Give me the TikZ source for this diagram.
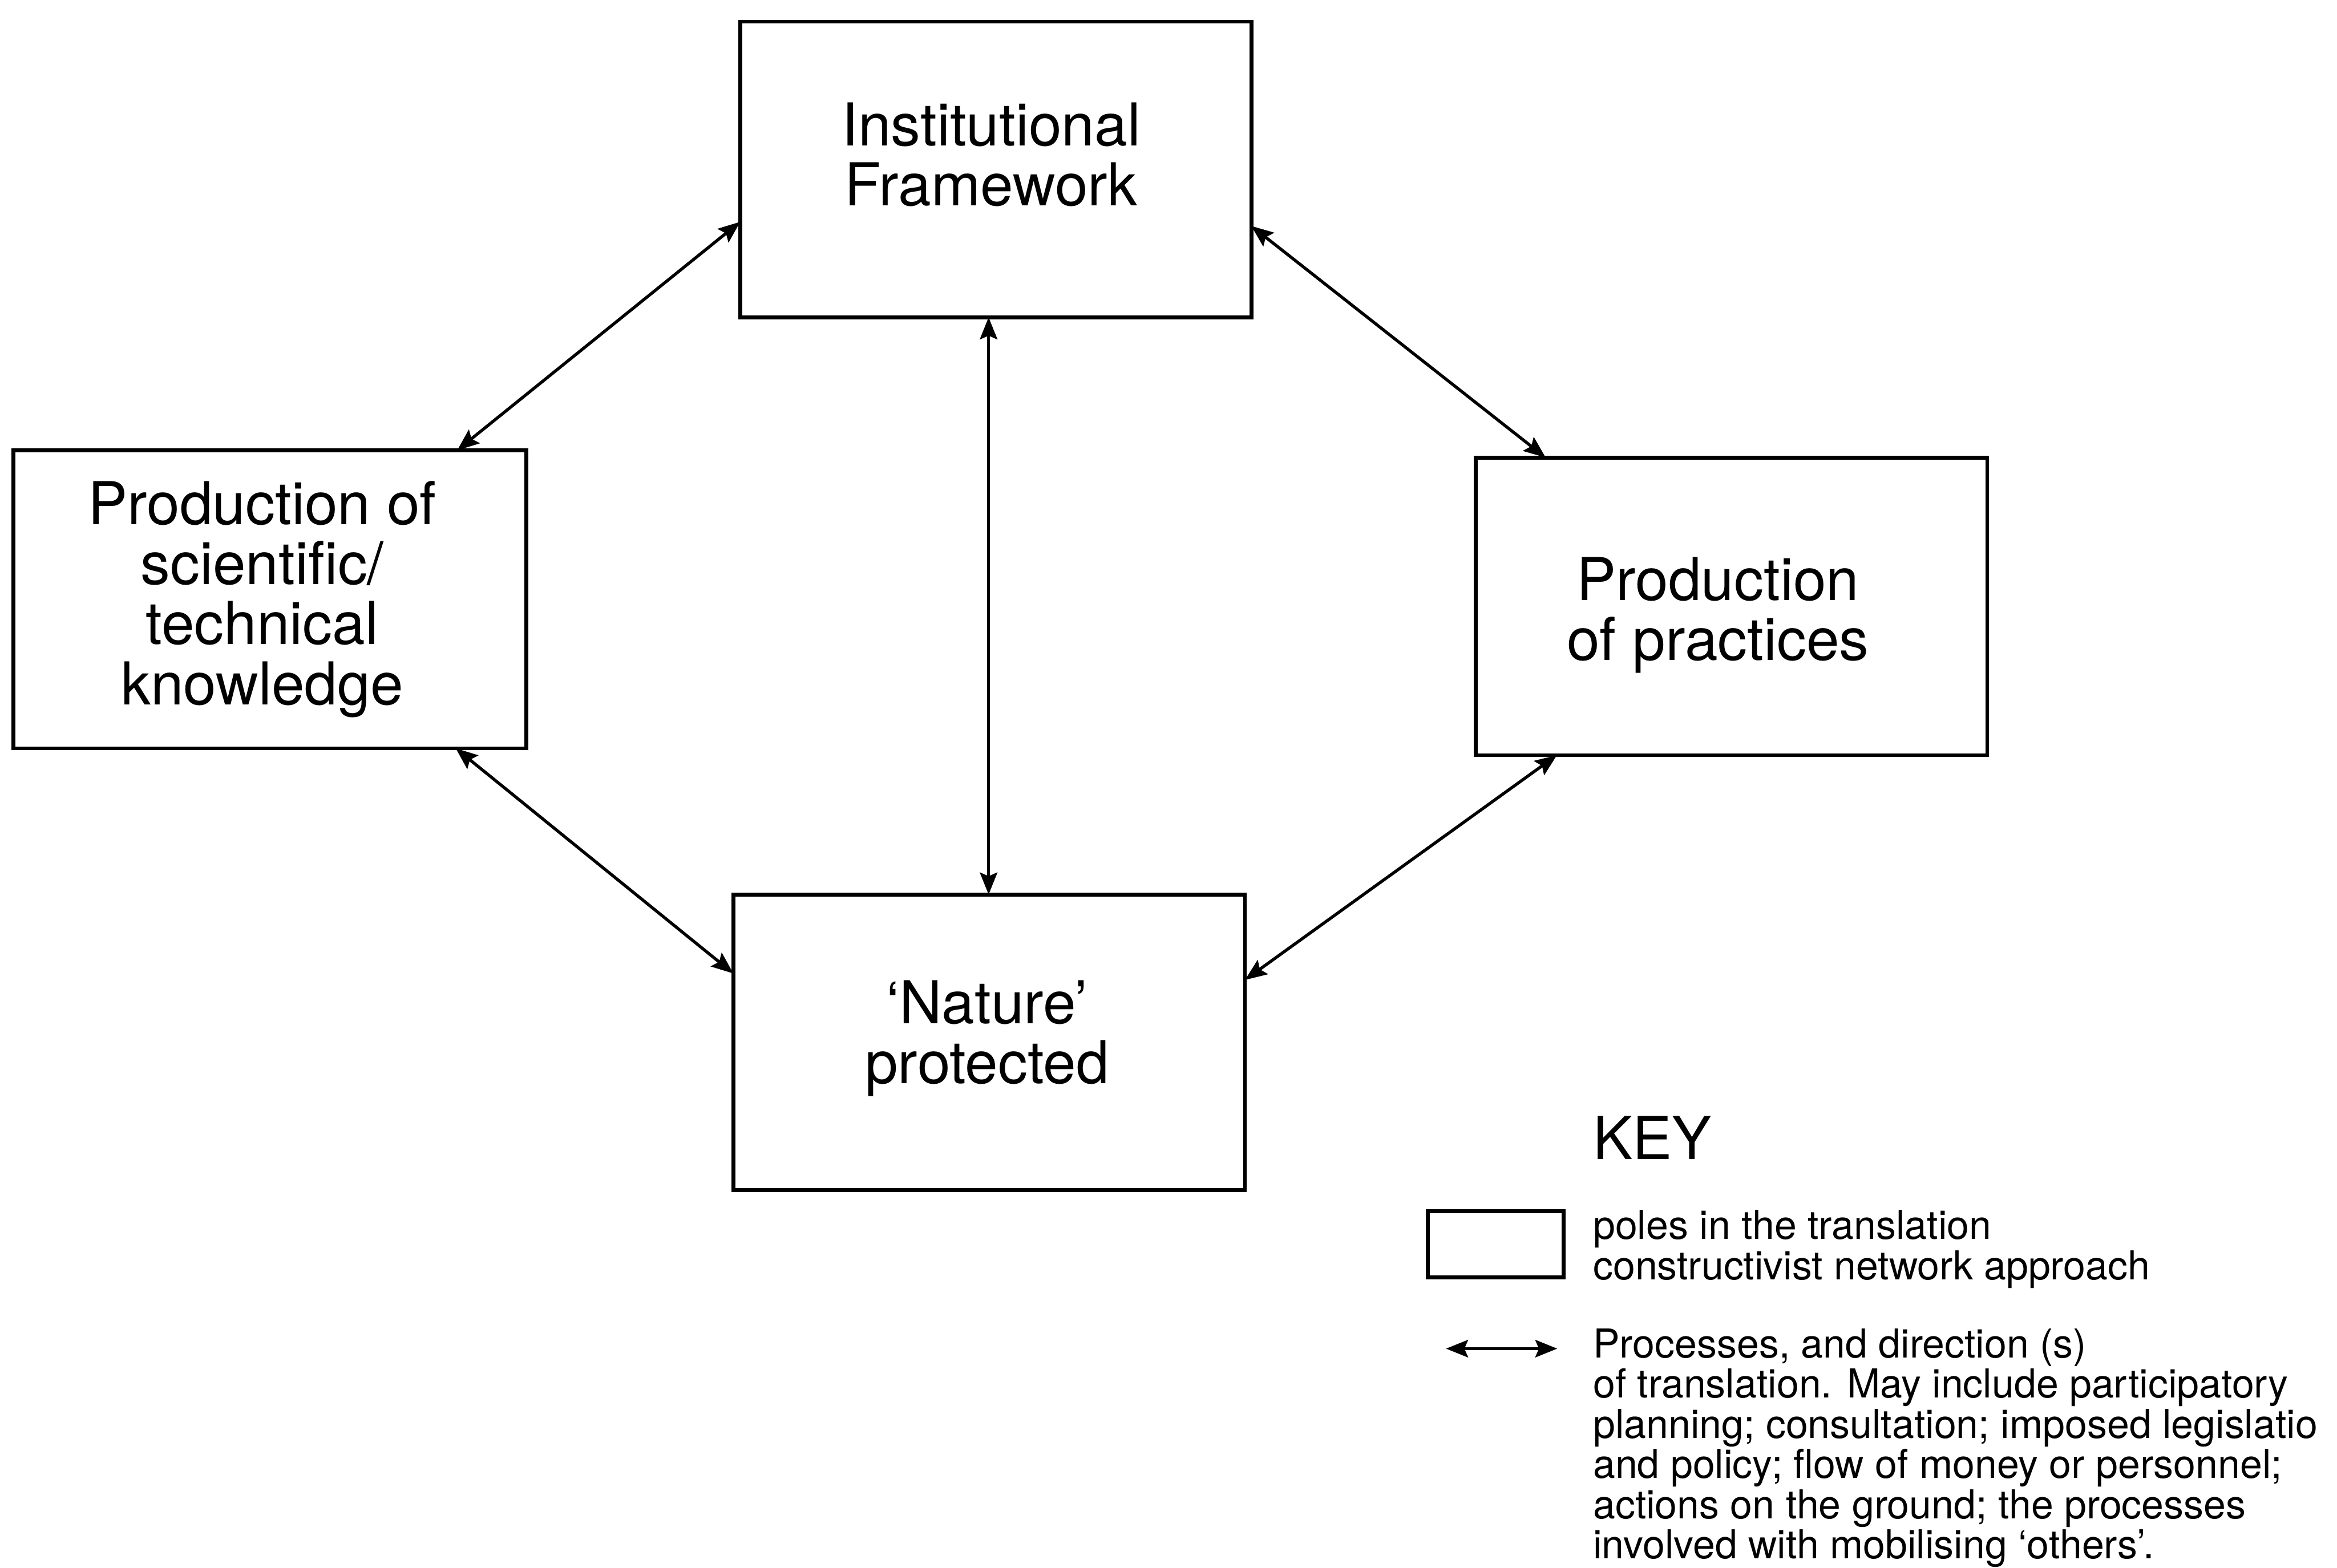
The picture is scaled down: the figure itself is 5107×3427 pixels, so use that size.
\documentclass[tikz,border=0pt]{standalone}
\usepackage{fontspec}
\setmainfont{TeX Gyre Heros}
\usetikzlibrary{arrows.meta,calc}
\begin{document}
\begin{tikzpicture}[x=0.005cm,y=-0.005cm,
  pole/.style={draw=black,line width=1.2pt,inner sep=0pt,outer sep=0pt},
  poletext/.style={align=center,inner sep=0pt,font=\fontsize{18.4}{18.7}\selectfont},
  keytext/.style={align=left,inner sep=0pt,anchor=north west,font=\fontsize{12.4}{12.5}\selectfont},
  link/.style={line width=0.95pt,{Stealth[length=0.24cm,width=0.19cm,inset=0.04cm]}-{Stealth[length=0.24cm,width=0.19cm,inset=0.04cm]}}
]
\useasboundingbox[fill=white] (0,0) rectangle (5107,3427);

% the four poles of the network
\node[pole,minimum width=5.59cm,minimum height=3.235cm] (IF) at (2176,370.5) {};
\node[pole,minimum width=5.61cm,minimum height=3.26cm] (SK) at (590,1310) {};
\node[pole,minimum width=5.595cm,minimum height=3.255cm] (PP) at (3783.5,1325.5) {};
\node[pole,minimum width=5.595cm,minimum height=3.235cm] (NP) at (2161.5,2278.5) {};

\node[poletext] (IFt) at (2166,338) {Institutional\\Framework};
\node[poletext] (SKt) at (573,1310) {Production of\\scientific/\\technical\\knowledge};
\node[poletext] (PPt) at (3754,1345) {Production\\of practices};
\node[poletext] (NPt) at (2157,2270) {‘Nature’\\protected};

% processes of translation between the poles
\draw[link] ($(IF.north west)!0.677!(IF.south west)$) -- ($(SK.north west)!0.865!(SK.north east)$);
\draw[link] ($(IF.north east)!0.691!(IF.south east)$) -- ($(PP.north west)!0.137!(PP.north east)$);
\coordinate (NPtop) at ($(NP.north west)!0.499!(NP.north east)$);
\draw[link] (NPtop |- IF.south) -- (NPtop);
\draw[link] ($(SK.south west)!0.862!(SK.south east)$) -- ($(NP.north west)!0.267!(NP.south west)$);
\draw[link] ($(PP.south west)!0.159!(PP.south east)$) -- ($(NP.north east)!0.289!(NP.south east)$);

% key
\node[inner sep=0pt,anchor=north west,font=\fontsize{18.4}{18.7}\selectfont] (keytitle) at (3480,2439) {KEY};
\node[pole,line width=1.25pt,minimum width=1.485cm,minimum height=0.725cm] (keybox) at (3268.5,2719.5) {};
\node[keytext] (keypoles) at (3480,2644) {poles in the translation\\constructivist network approach};
\coordinate (keyL) at (3160,2948);
\coordinate (keyR) at (3403,2948);
\draw[link,line width=0.95pt] (keyL) -- (keyR);
\node[keytext] (keyproc) at (3480,2903) {Processes, and direction (s)\\of translation. May include participatory\\planning; consultation; imposed legislatio\\and policy; flow of money or personnel;\\actions on the ground; the processes\\involved with mobilising ‘others’.};
\end{tikzpicture}
\end{document}
